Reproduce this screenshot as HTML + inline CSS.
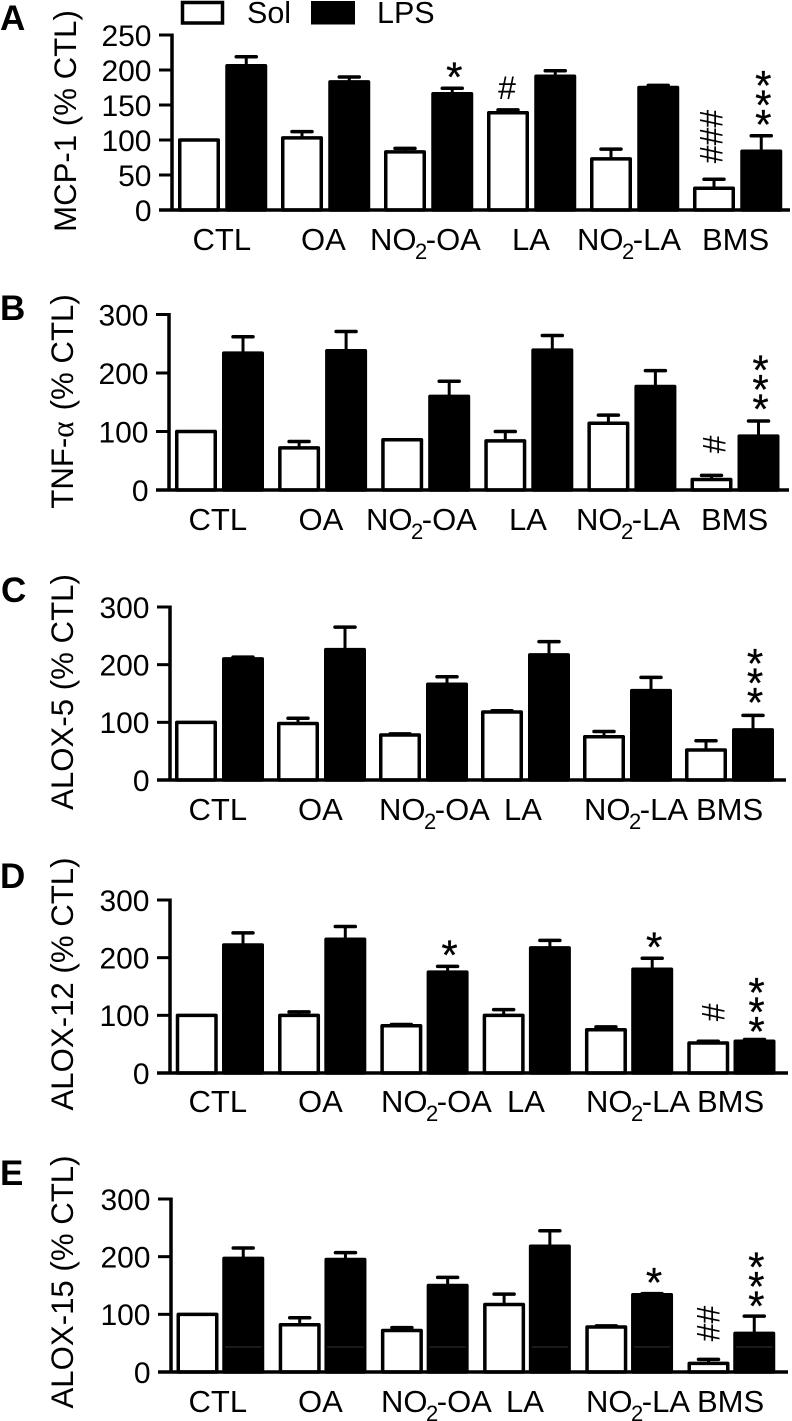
<!DOCTYPE html>
<html lang="en">
<head>
<meta charset="utf-8">
<title>Cytokine and ALOX expression bar charts</title>
<style>
html,body{margin:0;padding:0;background:#fff;width:792px;height:1421px;overflow:hidden}
svg{display:block}
text{font-family:"Liberation Sans",sans-serif;fill:#000}
</style>
</head>
<body>
<svg id="chart" xmlns="http://www.w3.org/2000/svg" width="792" height="1421" viewBox="0 0 792 1421">
  <g>
    <rect x="182.5" y="2.5" width="40" height="20.5" fill="#fff" stroke="#000" stroke-width="3.5"/>
    <text x="247" y="23" font-size="30.5">Sol</text>
    <rect x="311" y="1" width="44" height="23.5" fill="#000"/>
    <text x="377" y="23" font-size="30.5">LPS</text>
  </g>
</svg>
<script>
const categories = ["CTL", "OA", "NO2-OA", "LA", "NO2-LA", "BMS"];

const ticksA = [0, 50, 100, 150, 200, 250];
const ticksOther = [0, 100, 200, 300];

const mcpSol = [100, 103, 83, 139, 73, 31];
const mcpSolSem = [0, 9, 5, 4, 14, 13];
const mcpLps = [206, 183, 166, 191, 175, 84];
const mcpLpsSem = [13, 7, 8, 8, 3, 22];
const mcpStars = [0, 0, 1, 0, 0, 3];
const mcpHashes = [0, 0, 0, 1, 0, 3];

const tnfSol = [100, 72, 86, 84, 114, 18];
const tnfSolSem = [0, 11, 0, 16, 14, 7];
const tnfLps = [234, 238, 160, 239, 177, 92];
const tnfLpsSem = [28, 33, 26, 25, 27, 26];
const tnfStars = [0, 0, 0, 0, 0, 3];
const tnfHashes = [0, 0, 0, 0, 0, 1];

const alox5Sol = [100, 98, 78, 118, 75, 52];
const alox5SolSem = [0, 9, 2, 2, 9, 16];
const alox5Lps = [210, 226, 166, 217, 155, 87];
const alox5LpsSem = [3, 39, 13, 23, 23, 25];
const alox5Stars = [0, 0, 0, 0, 0, 3];
const alox5Hashes = [0, 0, 0, 0, 0, 0];

const alox12Sol = [100, 100, 82, 100, 75, 52];
const alox12SolSem = [0, 6, 2, 10, 5, 3];
const alox12Lps = [222, 232, 175, 217, 180, 55];
const alox12LpsSem = [21, 22, 10, 13, 19, 3];
const alox12Stars = [0, 0, 1, 0, 1, 3];
const alox12Hashes = [0, 0, 0, 0, 0, 1];

const alox15Sol = [100, 82, 72, 117, 78, 15];
const alox15SolSem = [0, 12, 5, 18, 2, 7];
const alox15Lps = [197, 195, 150, 218, 134, 67];
const alox15LpsSem = [18, 12, 14, 27, 2, 30];
const alox15Stars = [0, 0, 0, 0, 1, 3];
const alox15Hashes = [0, 0, 0, 0, 0, 2];

const svg = document.getElementById('chart');
const NS = 'http://www.w3.org/2000/svg';

function make(parent, tag, attrs, txt) {
  const el = document.createElementNS(NS, tag);
  for (const k in attrs) el.setAttribute(k, attrs[k]);
  if (txt !== undefined) el.textContent = txt;
  parent.appendChild(el);
  return el;
}

function drawPanel(p) {
  const yScale = v => p.y0 - (v / p.max) * (p.y0 - p.yTop);
  const barW = 38.5;
  const xSol = i => p.solX + i * p.pitch;
  const xLps = i => p.lpsX + i * p.pitch;

  const g = make(svg, 'g', {});
  
  

  const letter = make(g, 'text', { x: p.letterX, y: p.letterY, 'font-size': 35, 'font-weight': 'bold' }, p.letter);
  
  

  const title = make(g, 'text', {
    x: 0, y: 0, 'font-size': 31.2, 'text-anchor': 'middle',
    transform: 'translate(' + p.titleX + ' ' + p.titleY + ') rotate(-90)'
  });
  
  
  if (p.titleParts) {
    make(title, 'tspan', {}, p.titleParts[0]);
    make(title, 'tspan', { style: 'font-family:"Liberation Serif",serif' }, p.titleParts[1]);
    make(title, 'tspan', { dx: 11 }, p.titleParts[2]);
  } else {
    title.textContent = p.title;
  }

  categories.forEach((cat, i) => {
    [[p.sol, p.solSem, xSol(i), 'sol'], [p.lps, p.lpsSem, xLps(i), 'lps']].forEach(s => {
      const val = s[0][i], sem = s[1][i], x = s[2], kind = s[3];
      const cx = x + barW / 2;
      if (sem > 0) {
        const errLine = make(g, 'line', { x1: cx, x2: cx, y1: yScale(val), y2: yScale(val + sem), stroke: '#000', 'stroke-width': 3 });
        
        
        const errCap = make(g, 'line', { x1: cx - 10, x2: cx + 10, y1: yScale(val + sem), y2: yScale(val + sem), stroke: '#000', 'stroke-width': 3.5, 'stroke-linecap': 'round' });
        
        
      }
      const bar = make(g, 'rect', {
        x: x, y: yScale(val), width: barW, height: yScale(0) - yScale(val),
        fill: kind === 'sol' ? '#fff' : '#000', stroke: '#000', 'stroke-width': 3.5, 'stroke-linejoin': 'round'
      });
      
      
      if (p.faint && kind === 'lps') {
        const fl = make(g, 'line', { x1: x + 1, x2: x + barW - 1, y1: p.y0 - 25, y2: p.y0 - 25, stroke: '#333', 'stroke-width': 1 });
        
        
      }
    });

    // significance stars over LPS bars
    const starX = xLps(i) + barW / 2 + 2;
    const starGap = p.stars[i] > 1 ? p.stackGap : 17;
    const starBase = yScale(p.lps[i] + p.lpsSem[i]) - starGap;
    for (let n = 0; n < p.stars[i]; n++) {
      const st = make(g, 'text', { x: starX, y: starBase - n * 19.5 + 20.4, 'font-size': 42, 'text-anchor': 'middle', stroke: '#000', 'stroke-width': 0.3 }, '*');
      
      
    }

    // hash marks over Sol bars: stacked and rotated, except where the source prints one upright
    const hashCount = p.hashes[i];
    if (hashCount > 0) {
      const hashX = xSol(i) + barW / 2;
      const errTop = yScale(p.sol[i] + p.solSem[i]);
      let h;
      if (hashCount === 1 && p.uprightHash) {
        h = make(g, 'text', { x: hashX - 1, y: errTop - p.hashGap1, 'font-size': 32, 'text-anchor': 'middle' }, '#');
      } else {
        const gap = hashCount === 1 ? p.hashGap1 : p.hashGapN;
        h = make(g, 'text', {
          x: 0, y: 0, 'font-size': 32,
          transform: 'translate(' + (hashX + p.hashDx + 11) + ' ' + (errTop - gap) + ') rotate(-90)'
        }, '#'.repeat(hashCount));
      }
      
      
    }

    // category label
    const parts = cat.match(/^(NO)(2)(-.*)$/);
    const lab = make(g, 'text', { x: p.labelX[i], y: p.labelY, 'font-size': 31 });
    
    
    if (parts) {
      make(lab, 'tspan', {}, parts[1]);
      make(lab, 'tspan', { dx: -1.5, dy: 9, 'font-size': 22 }, parts[2]);
      make(lab, 'tspan', { dx: -1.5, dy: -9 }, parts[3]);
    } else {
      lab.textContent = cat;
    }
  });

  // axes
  const yAxis = make(g, 'line', { x1: p.axisX, x2: p.axisX, y1: p.yTop - 1.5, y2: p.y0 + 1.5, stroke: '#000', 'stroke-width': 3.5 });
  
  
  const xAxis = make(g, 'line', { x1: p.axisX - 13, x2: p.axisEnd, y1: p.y0, y2: p.y0, stroke: '#000', 'stroke-width': 3.5 });
  
  

  p.ticks.forEach(t => {
    const tick = make(g, 'line', { x1: p.axisX - 13, x2: p.axisX, y1: yScale(t), y2: yScale(t), stroke: '#000', 'stroke-width': 3 });
    
    
    const tl = make(g, 'text', { x: p.axisX - 20.5, y: yScale(t) + 10.8, 'font-size': 30, 'text-anchor': 'end' }, String(t));
    
    
  });
}

drawPanel({
  key: 'a', letter: 'A', letterX: 0, letterY: 30, title: 'MCP-1 (% CTL)', titleX: 76, titleY: 121,
  y0: 210, yTop: 35, max: 250, ticks: ticksA, axisX: 172, axisEnd: 790, solX: 179.75, lpsX: 227, pitch: 103,
  labelX: [192.5, 301, 370, 512, 577, 702], labelY: 250, stackGap: 17,
  hashGap1: 11, hashGapN: 16, hashDx: -2.5, uprightHash: true,
  sol: mcpSol, solSem: mcpSolSem, lps: mcpLps, lpsSem: mcpLpsSem, stars: mcpStars, hashes: mcpHashes
});
drawPanel({
  key: 'b', letter: 'B', letterX: 0, letterY: 320, titleParts: ['TNF-', '\u03B1', '(% CTL)'], titleX: 73, titleY: 401.5,
  y0: 490, yTop: 314.5, max: 300, ticks: ticksOther, axisX: 169, axisEnd: 789, solX: 176.75, lpsX: 223.75, pitch: 103.1,
  labelX: [188.5, 298.5, 366, 509, 576, 701], labelY: 530, stackGap: 18,
  hashGap1: 22, hashGapN: 17, hashDx: 3,
  sol: tnfSol, solSem: tnfSolSem, lps: tnfLps, lpsSem: tnfLpsSem, stars: tnfStars, hashes: tnfHashes
});
drawPanel({
  key: 'c', letter: 'C', letterX: 1, letterY: 602, title: 'ALOX-5 (% CTL)', titleX: 73, titleY: 692,
  y0: 780, yTop: 607, max: 300, ticks: ticksOther, axisX: 170, axisEnd: 786, solX: 176.75, lpsX: 223.75, pitch: 102,
  labelX: [188.5, 298, 379, 504, 584, 696], labelY: 820, stackGap: 19,
  hashGap1: 20, hashGapN: 17, hashDx: 0,
  sol: alox5Sol, solSem: alox5SolSem, lps: alox5Lps, lpsSem: alox5LpsSem, stars: alox5Stars, hashes: alox5Hashes
});
drawPanel({
  key: 'd', letter: 'D', letterX: 0, letterY: 888, title: 'ALOX-12 (% CTL)', titleX: 73, titleY: 984,
  y0: 1073, yTop: 900, max: 300, ticks: ticksOther, axisX: 170, axisEnd: 788, solX: 177.5, lpsX: 223.75, pitch: 102.3,
  labelX: [188.5, 298, 381, 507, 586, 697], labelY: 1112, stackGap: 14,
  hashGap1: 20, hashGapN: 17, hashDx: 5,
  sol: alox12Sol, solSem: alox12SolSem, lps: alox12Lps, lpsSem: alox12LpsSem, stars: alox12Stars, hashes: alox12Hashes
});
drawPanel({
  key: 'e', letter: 'E', letterX: 0, letterY: 1185, title: 'ALOX-15 (% CTL)', titleX: 73, titleY: 1282,
  y0: 1372, yTop: 1199, max: 300, ticks: ticksOther, axisX: 171, axisEnd: 788, solX: 178.25, lpsX: 224, pitch: 102.2, faint: true,
  labelX: [188.5, 298, 381, 506, 586, 697], labelY: 1412, stackGap: 16,
  hashGap1: 20, hashGapN: 18, hashDx: 0,
  sol: alox15Sol, solSem: alox15SolSem, lps: alox15Lps, lpsSem: alox15LpsSem, stars: alox15Stars, hashes: alox15Hashes
});
</script>
</body>
</html>
